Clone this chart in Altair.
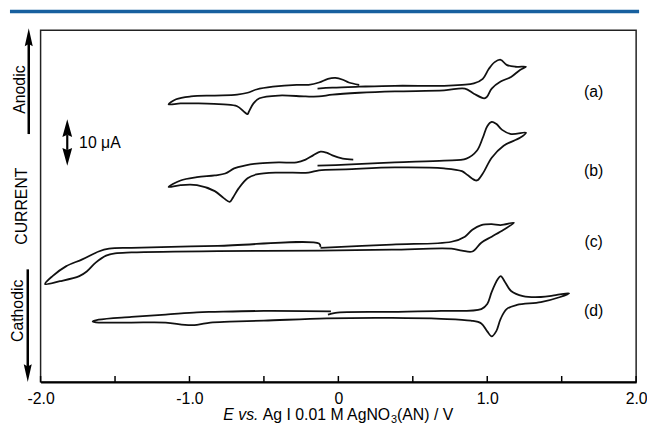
import altair as alt
import pandas as pd

FONT = "Liberation Sans"

# ---- data: potential E (V) and current (uA, curves offset) ----
E_a = [-0.14, -0.04, 0.14, 0.38, 0.71, 0.83, 0.91, 0.97, 1.01, 1.05, 1.09, 1.13, 1.19, 1.26,
       1.22, 1.16, 1.09, 1.03, 1.00, 0.98, 0.91, 0.85, 0.71, 0.38, 0.14, -0.04, -0.13, -0.22,
       -0.40, -0.53, -0.57, -0.60, -0.61, -0.63, -0.68, -0.77, -0.95, -1.06, -1.14, -1.09,
       -0.99, -0.83, -0.68, -0.61, -0.55, -0.44, -0.28, -0.20, -0.13, -0.07, -0.02, 0.03, 0.07, 0.14]
I_a = [63.2, 63.4, 63.6, 63.8, 63.8, 64.0, 64.3, 65.3, 67.4, 68.9, 69.4, 68.3, 67.9, 67.9,
       67.2, 65.7, 64.7, 63.2, 61.5, 61.1, 62.1, 63.2, 62.8, 62.6, 62.3, 61.9, 61.5, 61.5,
       61.7, 61.1, 60.0, 58.3, 57.7, 58.1, 59.4, 59.8, 60.0, 60.0, 59.8, 60.9,
       61.5, 61.7, 61.9, 62.3, 63.0, 63.6, 64.0, 64.0, 64.5, 65.3, 65.5, 65.1, 64.5, 64.0]

E_b = [-0.14, 0.05, 0.38, 0.71, 0.86, 0.93, 0.97, 1.00, 1.03, 1.06, 1.10, 1.16, 1.26, 1.22,
       1.11, 1.03, 0.97, 0.93, 0.87, 0.83, 0.71, 0.38, 0.05, -0.13, -0.20, -0.40, -0.55, -0.61,
       -0.67, -0.71, -0.73, -0.77, -0.83, -0.95, -1.06, -1.14, -1.06, -0.95, -0.83, -0.76,
       -0.70, -0.63, -0.53, -0.40, -0.28, -0.22, -0.17, -0.12, -0.08, -0.04, 0.03, 0.10]
I_b = [46.6, 46.8, 47.3, 47.7, 48.1, 49.8, 52.6, 55.1, 56.0, 55.6, 54.3, 53.4, 53.7, 52.6,
       50.9, 48.3, 44.9, 43.4, 44.5, 45.4, 46.0, 46.2, 45.8, 45.6, 45.1, 45.1, 44.7, 43.9,
       41.7, 39.6, 38.8, 39.6, 41.1, 42.4, 42.4, 42.0, 43.4, 44.1, 44.5, 44.9,
       46.0, 46.6, 47.1, 47.3, 47.3, 47.9, 48.8, 49.6, 49.4, 48.8, 48.1, 47.9]

E_c = [-0.12, 0.36, 0.76, 0.85, 0.90, 0.96, 1.03, 1.09, 1.18, 1.11, 1.03, 0.96, 0.90, 0.83,
       0.76, 0.36, -0.13, -0.81, -1.39, -1.50, -1.56, -1.63, -1.69, -1.74, -1.87, -1.97,
       -1.92, -1.83, -1.72, -1.61, -1.54, -1.39, -0.81, -0.13, -0.12]
I_c = [28.9, 29.6, 30.2, 31.3, 32.8, 33.8, 34.0, 33.8, 34.3, 32.8, 31.3, 30.0, 28.1, 28.3,
       28.7, 28.5, 28.3, 28.2, 27.9, 27.7, 27.2, 25.7, 23.8, 22.8, 21.7, 21.1,
       22.8, 24.9, 26.4, 28.1, 28.7, 28.9, 29.3, 29.8, 29.1]

E_d = [-0.07, -0.02, 0.36, 0.69, 0.96, 1.00, 1.03, 1.07, 1.09, 1.12, 1.16, 1.24, 1.36, 1.46,
       1.55, 1.49, 1.36, 1.20, 1.13, 1.09, 1.06, 1.03, 1.00, 0.96, 0.89, 0.69, 0.36, -0.08,
       -0.50, -0.73, -0.86, -0.95, -1.03, -1.16, -1.39, -1.61, -1.65, -1.61, -1.39, -1.16,
       -0.95, -0.83, -0.50, -0.05]
I_d = [14.5, 14.9, 15.1, 15.3, 15.7, 16.8, 19.4, 22.1, 22.8, 21.5, 19.6, 18.5, 18.3, 18.7,
       19.1, 18.3, 17.2, 16.6, 15.7, 13.6, 10.9, 9.8, 10.9, 12.6, 13.2, 13.6, 13.8, 13.7,
       13.2, 13.0, 12.8, 12.3, 12.3, 12.8, 12.8, 12.8, 13.0, 13.4, 14.0, 14.5,
       15.0, 15.1, 15.3, 15.2]

CURVE_NAMES = ["(a)", "(b)", "(c)", "(d)"]
X_TICKS = [-2.0, -1.5, -1.0, -0.5, 0.0, 0.5, 1.0, 1.5, 2.0]
X_LABELS = [-2.0, -1.0, 0.0, 1.0, 2.0]
Y_RANGE = [0, 75.74]

rows = []
for name, es, cs in zip(CURVE_NAMES, [E_a, E_b, E_c, E_d], [I_a, I_b, I_c, I_d]):
    for k, (e, c) in enumerate(zip(es, cs)):
        rows.append({"curve": name, "E": e, "I": c, "k": k})
df = pd.DataFrame(rows)
tick_df = pd.DataFrame({"E": X_TICKS})
one = pd.DataFrame({"k": [0]})

W, H = 603, 356
xs = alt.Scale(domain=[-2, 2], nice=False, zero=False)
ys = alt.Scale(domain=Y_RANGE, nice=False, zero=False)
xaxis = alt.Axis(values=X_LABELS, title=None, ticks=False, tickSize=0, grid=False,
                 domain=True, domainColor="black", domainWidth=2,
                 labelFont=FONT, labelFontSize=16, labelColor="black", labelPadding=9,
                 labelFlush=False, labelOverlap=False,
                 labelExpr="datum.value == 0 ? '0' : (datum.value < 0 ? '-' : '') + format(abs(datum.value), '.1f')")

curves = alt.Chart(df).mark_line(color="#111111", strokeWidth=1.8, strokeJoin="round",
                                 interpolate="catmull-rom").encode(
    x=alt.X("E:Q", scale=xs, axis=xaxis),
    y=alt.Y("I:Q", scale=ys, axis=None),
    detail="curve:N",
    order="k:Q",
)

ticks = alt.Chart(tick_df).mark_rule(color="black", strokeWidth=1.5).encode(
    x=alt.X("E:Q", scale=xs, axis=xaxis),
    y=alt.value(H), y2=alt.value(H - 6),
)


def txt(s, x, y, size=16, angle=0, align="center", style="normal"):
    return alt.Chart(one).mark_text(text=s, font=FONT, fontSize=size, angle=angle, align=align,
                                    baseline="middle", fontStyle=style, color="black").encode(
        x=alt.value(x), y=alt.value(y))


def rule(x1, y1, x2, y2, w, color="black"):
    return alt.Chart(one).mark_rule(color=color, strokeWidth=w).encode(
        x=alt.value(x1), y=alt.value(y1), x2=alt.value(x2), y2=alt.value(y2))


def head(x, y, up, size, wfrac):
    if up:
        path = f"M0,-1L{wfrac},1L0,0.75L-{wfrac},1Z"
    else:
        path = f"M0,1L{wfrac},-1L0,-0.75L-{wfrac},-1Z"
    return alt.Chart(one).mark_point(shape=path, filled=True, size=size, color="black",
                                     opacity=1, strokeWidth=0).encode(
        x=alt.value(x), y=alt.value(y))


layers = [curves, ticks]

# blue rule at the top of the page
layers.append(rule(-31, -19, 606, -19, 3.5, color="#17609f"))

# Anodic / Cathodic arrows and texts
layers += [
    rule(-12, 12, -12, 105, 2.5), head(-12, 7, True, 324, 0.45),
    rule(-13, 242, -13, 342, 2.5), head(-13, 347, False, 324, 0.45),
    txt("Anodic", -21, 60, angle=270),
    txt("CURRENT", -18.5, 178, angle=270),
    txt("Cathodic", -22.5, 284, angle=270),
]

# scale bar
layers += [
    rule(27, 106, 27, 121, 2.2),
    head(27, 99, True, 324, 0.55),
    head(27, 128, False, 324, 0.55),
    txt("10 \u03bcA", 39, 114, align="left"),
]

# curve labels
for name, yy in zip(CURVE_NAMES, [62, 142, 214, 284]):
    layers.append(txt(name, 560, yy))

# x-axis title with italic and subscript parts
layers += [
    txt("E vs.", 185, 390, align="left", style="italic"),
    txt("Ag I 0.01 M AgNO", 225, 390, align="left"),
    txt("3", 354.8, 395, size=11, align="left"),
    txt("(AN) / V", 360.9, 390, align="left"),
]

chart = alt.layer(*layers).properties(
    width=W, height=H,
    padding={"left": 33, "top": 20, "right": 11, "bottom": 44},
    autosize=alt.AutoSizeParams(type="none"),
).configure_view(stroke="#222222", strokeWidth=1.5)

chart.save("out.html", embed_options={"renderer": "svg", "actions": False})
